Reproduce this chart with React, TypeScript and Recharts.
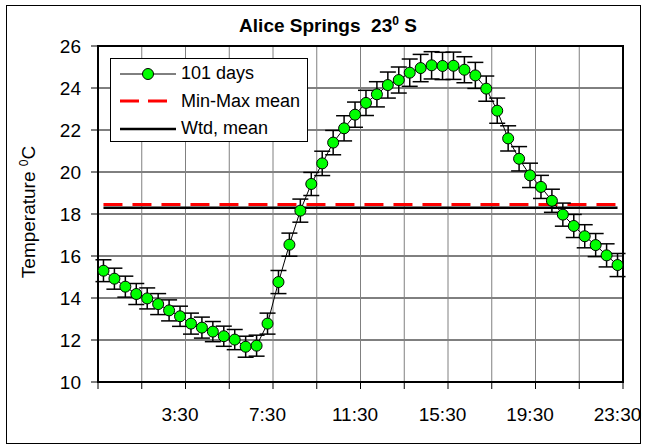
import {
  CartesianGrid,
  ErrorBar,
  Legend,
  Line,
  LineChart,
  ReferenceArea,
  XAxis,
  YAxis,
} from "recharts";

const FONT = "'Liberation Sans', Arial, sans-serif";

// half-hour slots through the day
const times = Array.from({ length: 48 }, (_, i) => `${Math.floor(i / 2)}:${i % 2 ? "30" : "00"}`);

// mean temperature per half hour (101 days)
const temps = [
  15.3, 14.92, 14.54, 14.19, 13.98, 13.71, 13.41, 13.13,
  12.78, 12.59, 12.4, 12.18, 12.02, 11.68, 11.73, 12.78,
  14.76, 16.54, 18.16, 19.43, 20.41, 21.4, 22.08, 22.73,
  23.29, 23.7, 24.14, 24.38, 24.73, 24.95, 25.08, 25.05,
  25.06, 24.87, 24.6, 23.97, 22.92, 21.6, 20.63, 19.84,
  19.29, 18.63, 17.97, 17.43, 16.94, 16.52, 16.03, 15.57,
];

// standard error for each slot
const errors = [
  0.52, 0.5, 0.5, 0.5, 0.5, 0.5, 0.5, 0.48,
  0.5, 0.5, 0.48, 0.48, 0.48, 0.5, 0.5, 0.5,
  0.55, 0.55, 0.55, 0.55, 0.58, 0.58, 0.6, 0.6,
  0.6, 0.6, 0.62, 0.62, 0.65, 0.65, 0.65, 0.65,
  0.65, 0.62, 0.62, 0.6, 0.6, 0.6, 0.58, 0.58,
  0.55, 0.55, 0.55, 0.55, 0.55, 0.55, 0.55, 0.55,
];

const minMaxMean = 18.45;
const weightedMean = 18.3;

const yTicks = [10, 12, 14, 16, 18, 20, 22, 24, 26];
const xTicks = [0, 4, 8, 12, 16, 20, 24, 28, 32, 36, 40, 44, 48];

const data = times.map((time, i) => ({
  x: i + 0.5,
  time,
  temp: temps[i],
  err: errors[i],
  minMax: minMaxMean,
  wtd: weightedMean,
}));

// label only every 8th slot boundary, using the slot just before it
const formatTime = (v: number) => (v > 0 && v % 8 === 0 ? times[v - 1] : "");

const LegendBox = () => (
  <div
    style={{
      width: 198,
      height: 84,
      boxSizing: "border-box",
      border: "1px solid #000",
      background: "#fff",
      fontFamily: FONT,
      fontSize: 18,
      color: "#000",
      paddingTop: 1,
    }}
  >
    {[
      { name: "101 days", kind: "dots" },
      { name: "Min-Max mean", kind: "dash" },
      { name: "Wtd, mean", kind: "solid" },
    ].map((row) => (
      <div key={row.name} style={{ display: "flex", alignItems: "center", height: 27.5 }}>
        <svg width={56} height={14} style={{ marginLeft: 9, marginRight: 5 }}>
          {row.kind === "dots" && (
            <>
              <line x1={0} y1={7} x2={56} y2={7} stroke="#000" strokeWidth={1} />
              <circle cx={28} cy={7} r={5.5} fill="#00ff00" stroke="#000" strokeWidth={1} />
            </>
          )}
          {row.kind === "dash" && (
            <line x1={0} y1={7} x2={56} y2={7} stroke="#ff0000" strokeWidth={3} strokeDasharray="19 9" />
          )}
          {row.kind === "solid" && <line x1={0} y1={7} x2={56} y2={7} stroke="#000" strokeWidth={2.5} />}
        </svg>
        <span>{row.name}</span>
      </div>
    ))}
  </div>
);

export default function App() {
  return (
    <div style={{ position: "absolute", left: 0, top: 0, width: 646, height: 445, background: "#fff" }}>
      <div
        style={{
          position: "absolute",
          left: 6,
          top: 5,
          width: 635,
          height: 439,
          boxSizing: "border-box",
          border: "1px solid #000",
        }}
      />
      <div
        style={{
          position: "absolute",
          left: 328,
          top: 15,
          transform: "translateX(-50%)",
          whiteSpace: "nowrap",
          fontFamily: FONT,
          fontWeight: "bold",
          fontSize: 19,
          lineHeight: 1,
        }}
      >
        Alice Springs&nbsp; 23<sup style={{ fontSize: 12 }}>0</sup> S
      </div>
      <div
        style={{
          position: "absolute",
          left: 28,
          top: 212,
          transform: "translate(-50%, -50%) rotate(-90deg)",
          whiteSpace: "nowrap",
          fontFamily: FONT,
          fontSize: 19,
          lineHeight: 1,
        }}
      >
        Temperature <sup style={{ fontSize: 12 }}>0</sup>C
      </div>
      <LineChart
        width={646}
        height={445}
        data={data}
        margin={{ top: 46, right: 23, left: 0, bottom: 13 }}
        style={{ position: "absolute", left: 0, top: 0 }}
      >
        <CartesianGrid vertical={false} stroke="#000" strokeWidth={1} />
        <CartesianGrid horizontal={false} stroke="#808080" strokeWidth={1} />
        <XAxis
          type="number"
          dataKey="x"
          domain={[0, 48]}
          ticks={xTicks}
          interval={0}
          height={50}
          tickSize={7}
          tickMargin={19}
          tickFormatter={formatTime}
          tick={{ fill: "#000", fontSize: 19, fontFamily: FONT, dx: -5.5 }}
          tickLine={{ stroke: "#000" }}
          axisLine={{ stroke: "#000", strokeWidth: 2 }}
        />
        <YAxis
          type="number"
          domain={[10, 26]}
          ticks={yTicks}
          interval={0}
          width={98}
          tickSize={7}
          tickMargin={10}
          tick={{ fill: "#000", fontSize: 19, fontFamily: FONT }}
          tickLine={{ stroke: "#000" }}
          axisLine={{ stroke: "#000", strokeWidth: 2 }}
        />
        <ReferenceArea x1={0} x2={48} y1={10} y2={26} fill="none" stroke="#000" strokeWidth={2} ifOverflow="visible" />
        <Line
          dataKey="wtd"
          stroke="#000"
          strokeWidth={2.5}
          dot={false}
          activeDot={false}
          isAnimationActive={false}
          legendType="none"
        />
        <Line
          dataKey="minMax"
          stroke="#ff0000"
          strokeWidth={3}
          strokeDasharray="19 10"
          dot={false}
          activeDot={false}
          isAnimationActive={false}
          legendType="none"
        />
        <Line
          dataKey="temp"
          stroke="#000"
          strokeWidth={1}
          dot={{ r: 5.5, fill: "#00ff00", stroke: "#000", strokeWidth: 1 }}
          activeDot={false}
          isAnimationActive={false}
        >
          <ErrorBar dataKey="err" direction="y" width={8} stroke="#000" strokeWidth={1.5} isAnimationActive={false} />
        </Line>
        <Legend
          layout="vertical"
          align="center"
          verticalAlign="middle"
          content={() => <LegendBox />}
          wrapperStyle={{ left: 110, top: 58, width: 198, height: 84 }}
        />
      </LineChart>
    </div>
  );
}
